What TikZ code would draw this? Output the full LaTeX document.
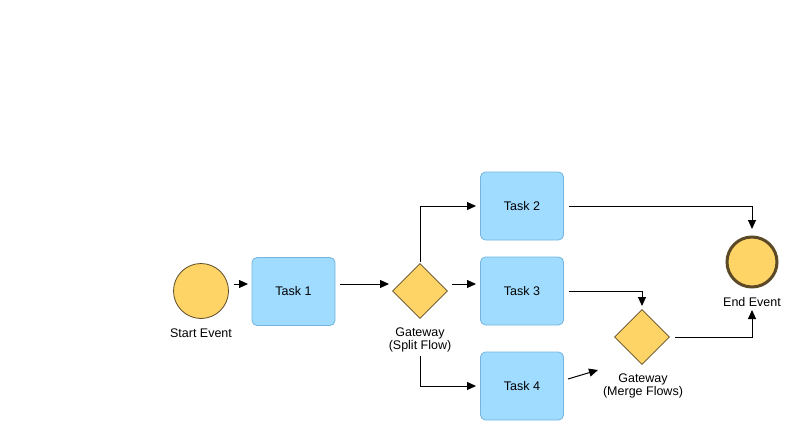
\documentclass[tikz,border=0pt]{standalone}
\usepackage{fontspec}
\setmainfont{Liberation Sans}
\usetikzlibrary{arrows.meta,shapes.geometric}
\definecolor{evfill}{HTML}{FFD467}
\definecolor{evline}{HTML}{5C4A26}
\definecolor{taskfill}{HTML}{A0DCFF}
\definecolor{taskline}{HTML}{74B4DE}
\tikzset{
  flow/.style={draw=black, line width=1pt, -{Triangle[length=9pt,width=8pt]}},
  taskbox/.style={draw=taskline, fill=taskfill, rounded corners=5pt, minimum width=83pt, minimum height=68pt, inner sep=0pt, font=\fontsize{12.5}{14}\selectfont, line width=0.8pt},
  startev/.style={circle, draw=evline, fill=evfill, minimum size=55pt, inner sep=0pt, line width=0.8pt},
  endev/.style={circle, draw=evline, fill=evfill, minimum size=50pt, inner sep=0pt, line width=3pt},
  gate/.style={diamond, draw=evline, fill=evfill, minimum width=55pt, minimum height=55pt, inner sep=0pt, line width=0.8pt},
  lbl/.style={font=\fontsize{12.5}{13.5}\selectfont, align=center, inner sep=0pt}
}
\begin{document}
\begin{tikzpicture}[x=1pt,y=-1pt]
\useasboundingbox (0,0) rectangle (796,436);
% events, tasks and gateways
\node[startev] (start) at (201,291) {};
\node[lbl] (startl) at (201,333) {Start Event};
\node[taskbox] (t1) at (293.5,291.5) {Task 1};
\node[gate] (g1) at (420,291) {};
\node[lbl] (g1l) at (420,340) {Gateway\\(Split Flow)};
\node[taskbox] (t2) at (522,206) {Task 2};
\node[taskbox] (t3) at (522,291) {Task 3};
\node[taskbox] (t4) at (522,386) {Task 4};
\node[gate] (g2) at (642,337) {};
\node[lbl] (g2l) at (643,386) {Gateway\\(Merge Flows)};
\node[endev] (end) at (752,262) {};
\node[lbl] (endl) at (752,302) {End Event};
% anchor points of the sequence flows
\coordinate (a1) at (234,284);
\coordinate (a1e) at (248,284);
\coordinate (a2) at (340,284);
\coordinate (a2e) at (389,284);
\coordinate (a3) at (452,284);
\coordinate (a3e) at (476,284);
\coordinate (a4) at (420,262);
\coordinate (a4e) at (476,206);
\coordinate (a5) at (420,356);
\coordinate (a5e) at (476,386);
\coordinate (a6) at (568,379);
\coordinate (a6e) at (598,370);
\coordinate (a7) at (569,291);
\coordinate (a7e) at (642,306);
\coordinate (a8) at (569,206);
\coordinate (a8e) at (752,229);
\coordinate (a9) at (675,337);
\coordinate (a9e) at (752,310);
% sequence flows
\draw[flow] (a1) -- (a1e);
\draw[flow] (a2) -- (a2e);
\draw[flow] (a3) -- (a3e);
\draw[flow] (a4) |- (a4e);
\draw[flow] (a5) |- (a5e);
\draw[flow] (a6) -- (a6e);
\draw[flow] (a7) -| (a7e);
\draw[flow] (a8) -| (a8e);
\draw[flow] (a9) -| (a9e);
\end{tikzpicture}
\end{document}
